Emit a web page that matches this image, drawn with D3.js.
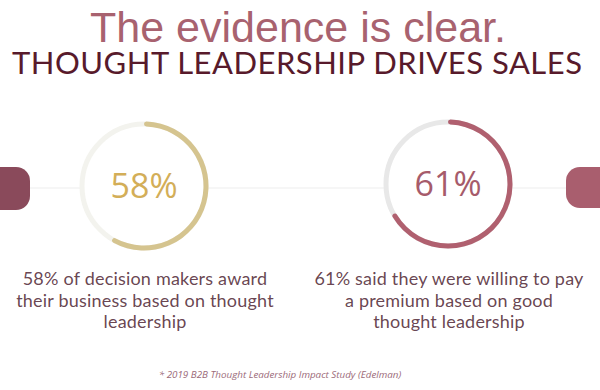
<!DOCTYPE html>
<html>
<head>
<meta charset="utf-8">
<script src="https://cdn.jsdelivr.net/npm/d3@7"></script>
<style>
  body { margin: 0; background: #fff; }
  svg { display: block; }
</style>
</head>
<body>
<div id="chart-area"></div>
<script>
const canvasWidth = 600;
const canvasHeight = 390;

// data
const statLabels = ["58%", "61%"];
const statValues = [58, 61];
// share of the ring that is filled, as drawn in the picture
const ringShares = [0.585, 0.67];
const statLines = [
  ["58% of decision makers award", "their business based on thought", "leadership"],
  ["61% said they were willing to pay", "a premium based on good", "thought leadership"]
];
const ringColors = ["#d5c48f", "#b0606f"];
const labelColors = ["#d3ae58", "#a65b6b"];
const trackColors = ["#f3f3ee", "#e8e8e8"];

const titleText = "The evidence is clear.";
const subtitleText = "THOUGHT LEADERSHIP DRIVES SALES";
const footnoteText = "* 2019 B2B Thought Leadership Impact Study (Edelman)";

const ringCenters = [{x: 144, y: 186}, {x: 448, y: 184}];
const ringRadius = 62;
const ringWidth = 5;

const canvas = d3.select("#chart-area").append("svg")
  .attr("width", canvasWidth).attr("height", canvasHeight);

// faint guide line across the page
canvas.append("line")
  .attr("x1", 30).attr("x2", 566).attr("y1", 188).attr("y2", 188)
  .attr("stroke", "#f6f6f6").attr("stroke-width", 2);

// side tabs
canvas.append("rect").attr("x", -20).attr("y", 167).attr("width", 50).attr("height", 43)
  .attr("rx", 14).attr("fill", "#8a4a5b");
canvas.append("rect").attr("x", 566).attr("y", 167).attr("width", 60).attr("height", 41)
  .attr("rx", 14).attr("fill", "#a95e6e");

canvas.append("text")
  .attr("x", 298).attr("y", 42)
  .attr("text-anchor", "middle")
  .attr("font-family", "'Liberation Sans', Arial, sans-serif")
  .attr("font-size", "43px")
  .attr("fill", "#a8626f")
  .text(titleText);

canvas.append("text")
  .attr("x", 12).attr("y", 74)
  .attr("textLength", 570).attr("lengthAdjust", "spacing")
  .attr("font-family", "Lato, sans-serif")
  .attr("font-size", "31px")
  .attr("fill", "#581a2b")
  .text(subtitleText);

const angleScale = d3.scaleLinear().domain([0, 1]).range([0, 2 * Math.PI]);
const arc = d3.arc().innerRadius(ringRadius - ringWidth / 2).outerRadius(ringRadius + ringWidth / 2).cornerRadius(2.5);

statValues.forEach((v, i) => {
  const g = canvas.append("g").attr("transform", `translate(${ringCenters[i].x}, ${ringCenters[i].y})`);

  g.append("circle").attr("r", ringRadius).attr("fill", "#fff")
    .attr("stroke", trackColors[i]).attr("stroke-width", ringWidth);

  g.append("path")
    .attr("d", arc({startAngle: angleScale(0), endAngle: angleScale(ringShares[i])}))
    .attr("fill", ringColors[i]);

  g.append("text")
    .attr("y", 12)
    .attr("text-anchor", "middle")
    .attr("font-family", "'Open Sans', sans-serif")
    .attr("font-size", "34px")
    .attr("fill", labelColors[i])
    .text(statLabels[i]);

  const block = canvas.append("text")
    .attr("text-anchor", "middle")
    .attr("font-family", "Lato, sans-serif")
    .attr("font-size", "18px")
    .attr("letter-spacing", "0.2px")
    .attr("fill", "#5b3442")
    .attr("fill-opacity", 0.92);
  statLines[i].forEach((line, j) => {
    block.append("tspan").attr("x", ringCenters[i].x + 1).attr("y", 285 + j * 21.5).text(line);
  });
});

canvas.append("text")
  .attr("x", 280).attr("y", 378)
  .attr("text-anchor", "middle")
  .attr("font-family", "'Open Sans', sans-serif")
  .attr("font-style", "italic")
  .attr("font-size", "9.8px")
  .attr("fill", "#9b6a79")
  .text(footnoteText);
</script>
</body>
</html>
